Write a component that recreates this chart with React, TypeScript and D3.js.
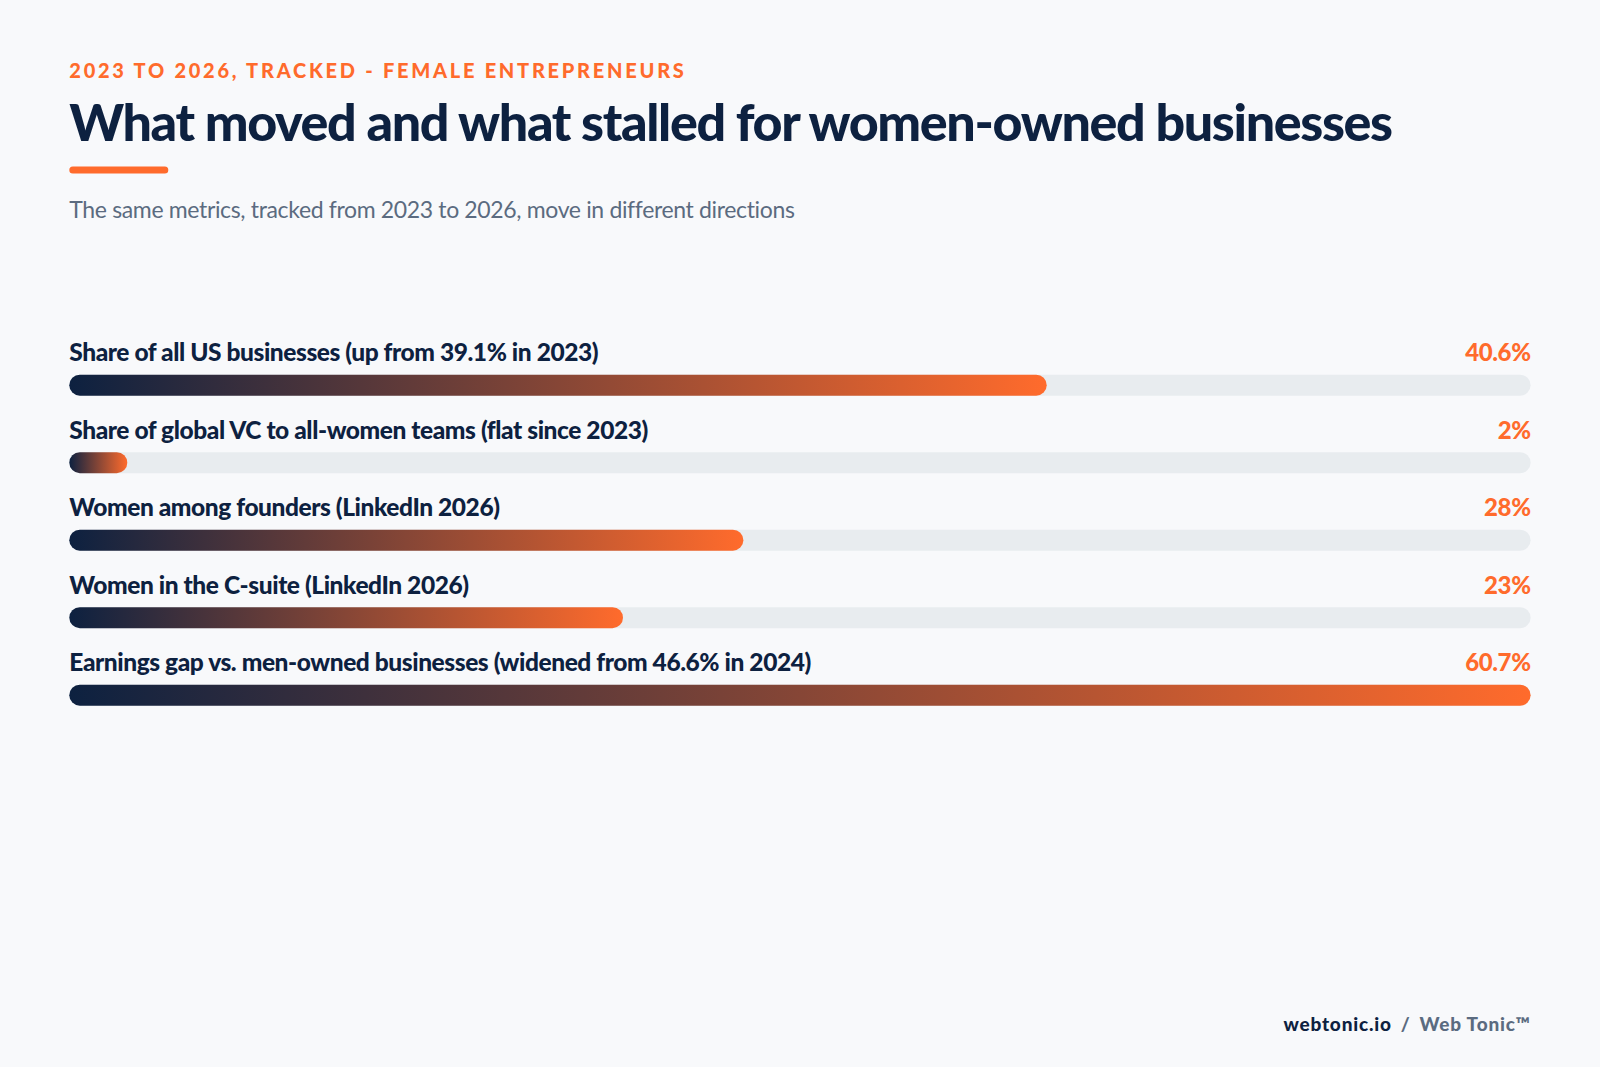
import React from "react";
import * as d3 from "d3";

const labels = [
  "Share of all US businesses (up from 39.1% in 2023)",
  "Share of global VC to all-women teams (flat since 2023)",
  "Women among founders (LinkedIn 2026)",
  "Women in the C-suite (LinkedIn 2026)",
  "Earnings gap vs. men-owned businesses (widened from 46.6% in 2024)",
];
const values = [40.6, 2, 28, 23, 60.7];
const valueLabels = ["40.6%", "2%", "28%", "23%", "60.7%"];

const W = 1600;
const H = 1067;
const left = 69.3;
const right = 1530.6;
const barH = 21;
const minBar = 58;

const NAVY = "#0d2140";
const ORANGE = "#ff6b2c";
const SLATE = "#5b6b80";
const FONT = "Lato, sans-serif";

export default function App() {
  const x = d3.scaleLinear().domain([0, d3.max(values) ?? 1]).range([0, right - left]);
  const y = d3.scalePoint<string>().domain(labels).range([374.7, 684.7]);

  return (
    <svg
      width={W}
      height={H}
      viewBox={`0 0 ${W} ${H}`}
      style={{ position: "absolute", left: 0, top: 0, display: "block" }}
      fontFamily={FONT}
    >
      <defs>
        {labels.map((_, i) => (
          <linearGradient key={i} id={`bar-${i}`} x1="0" x2="1" y1="0" y2="0">
            <stop offset="0%" stopColor={NAVY} />
            <stop offset="100%" stopColor={ORANGE} />
          </linearGradient>
        ))}
      </defs>
      <rect width={W} height={H} fill="#f8f9fb" />

      <text x={left} y={78} fontSize={20} fontWeight={900} letterSpacing={2.74} fill={ORANGE}>
        2023 TO 2026, TRACKED - FEMALE ENTREPRENEURS
      </text>
      <text x={left} y={141} fontSize={52} fontWeight={900} letterSpacing={-1.36} fill={NAVY}>
        What moved and what stalled for women-owned businesses
      </text>
      <rect x={left} y={166.5} width={99} height={7} rx={3.5} fill={ORANGE} />
      <text x={left} y={218} fontSize={23} letterSpacing={-0.35} fill={SLATE}>
        The same metrics, tracked from 2023 to 2026, move in different directions
      </text>

      {labels.map((d, i) => {
        const top = y(d) ?? 0;
        return (
          <g key={d}>
            <text x={left} y={top - 13.7} fontSize={24.5} fontWeight={900} letterSpacing={-0.43} fill={NAVY}>
              {d}
            </text>
            <text x={right} y={top - 13.7} textAnchor="end" fontSize={24} fontWeight={900} letterSpacing={-0.4} fill={ORANGE}>
              {valueLabels[i]}
            </text>
            <rect x={left} y={top} width={right - left} height={barH} rx={barH / 2} fill="#e8ecef" />
            <rect x={left} y={top} width={Math.max(x(values[i]), minBar)} height={barH} rx={barH / 2} fill={`url(#bar-${i})`} />
          </g>
        );
      })}

      <text x={right} y={1031} textAnchor="end" fontSize={19} fontWeight={900} letterSpacing={0.8}>
        <tspan fill={NAVY}>webtonic.io</tspan>
        <tspan fill={SLATE} dx={9}>/</tspan>
        <tspan fill={SLATE} dx={9}>Web Tonic™</tspan>
      </text>
    </svg>
  );
}
